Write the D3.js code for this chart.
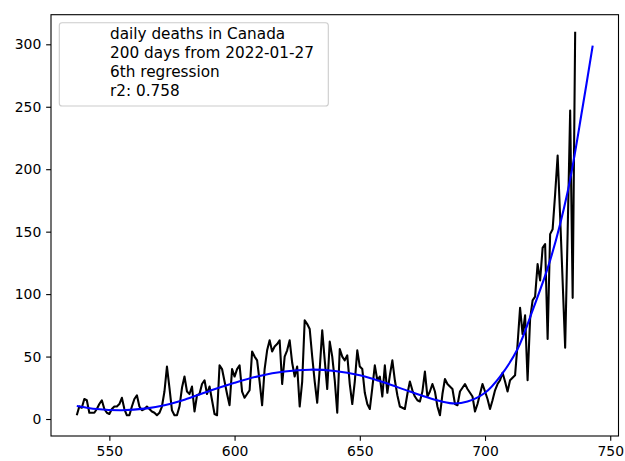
<!DOCTYPE html>
<html><head><meta charset="utf-8">
<script src="https://cdn.jsdelivr.net/npm/d3@7"></script>
<style>body{margin:0;background:#fff}svg{display:block}text{font-family:"DejaVu Sans",sans-serif}</style>
</head><body><svg id="c" width="625" height="461"></svg>
<script>
const startDay = 537;
const deaths = [3,10,9,16,15,5,5,5,8,12,15,8,5,4,8,10,10,12,17,8,3,3,10,16,19,10,7,8,10,8,6,5,3,5,10,22,42,25,7,3,3,10,25,34,22,20,26,6,19,20,
28,31,20,26,15,4,3,43,40,30,20,11,40,34,40,43,22,17,20,23,54,50,47,30,11,40,55,63,54,58,60,63,28,50,55,63,45,34,42,10,30,79,76,72,50,30,13,40,71,47,
24,62,50,31,5,56,50,47,51,28,12,30,55,42,40,21,12,8,25,43,31,34,18,43,21,35,47,31,19,10,9,8,20,30,23,18,15,14,22,38,18,22,28,22,10,3,20,32,28,26,
24,12,11,22,25,28,24,21,18,6,12,20,28,22,16,8,15,23,28,31,37,30,22,31,33,35,60,89,68,83,31,80,95,98,124,111,137,140,64,148,152,180,211,162,110,57,150,247,97,310];
const fitDays = [537,545,555,565,572,580,590,600,610,620,630,640,650,660,670,680,687,693,700,706,713,719,726,733,739,743];
const fitVals = [10.5,8,7,8.5,11,15.5,22.5,29,34.5,38,39.5,38.5,35,29,22,15.5,12.5,14,21,34,56,87,127,182,250,299];
const xTicks = [550,600,650,700,750];
const yTicks = [0,50,100,150,200,250,300];
const legendLines = ["daily deaths in Canada","200 days from 2022-01-27","6th regression","r2: 0.758"];

const svg = d3.select("#c");
const L=51,R=618.5,T=14.7,B=436;
const x = d3.scaleLinear().domain([526.7,753.3]).range([L,R]);
const y = d3.scaleLinear().domain([-13.6,323.7]).range([B,T]);
const fs = 13.9, tk = 4.86, lfs = 15.28;

svg.append("rect").attr("width",625).attr("height",461).attr("fill","#fff");

const g = svg.append("g");
g.append("defs").append("clipPath").attr("id","clip").append("rect")
  .attr("x",L).attr("y",T).attr("width",R-L).attr("height",B-T);

const pts = deaths.map((v,i)=>[startDay+i,v]);
g.append("path").datum(pts).attr("clip-path","url(#clip)")
  .attr("fill","none").attr("stroke","#000").attr("stroke-width",2.08).attr("stroke-linejoin","round")
  .attr("d", d3.line().x(d=>x(d[0])).y(d=>y(d[1])));

const fit = fitDays.map((d,i)=>[d,fitVals[i]]);
g.append("path").datum(fit).attr("clip-path","url(#clip)")
  .attr("fill","none").attr("stroke","#0000ff").attr("stroke-width",2.08)
  .attr("d", d3.line().curve(d3.curveCatmullRom.alpha(0.5)).x(d=>x(d[0])).y(d=>y(d[1])));

// axes
const xa = svg.append("g").attr("transform",`translate(0,${B})`)
  .call(d3.axisBottom(x).tickValues(xTicks).tickSize(tk).tickPadding(4.86).tickFormat(d3.format("d")));
const ya = svg.append("g").attr("transform",`translate(${L},0)`)
  .call(d3.axisLeft(y).tickValues(yTicks).tickSize(tk).tickPadding(4.86).tickFormat(d3.format("d")));
[xa,ya].forEach(a=>{
  a.select(".domain").remove();
  a.selectAll("line").attr("stroke","#000").attr("stroke-width",1.1);
  a.selectAll("text").attr("font-size",fs).attr("fill","#000").attr("font-family","DejaVu Sans");
});
svg.append("rect").attr("x",L).attr("y",T).attr("width",R-L).attr("height",B-T)
  .attr("fill","none").attr("stroke","#000").attr("stroke-width",1.1);

// legend
const lg = svg.append("g");
lg.append("rect").attr("x",59.3).attr("y",22.7).attr("width",269).attr("height",83.3).attr("rx",2.8)
  .attr("fill","#fff").attr("fill-opacity",0.8).attr("stroke","#cccccc").attr("stroke-width",1.1);
lg.selectAll("text.l").data(legendLines).join("text").attr("class","l")
  .attr("x",110).attr("y",(d,i)=>39.4+i*18.8).attr("font-size",lfs).attr("fill","#000").text(d=>d);
</script></body></html>
